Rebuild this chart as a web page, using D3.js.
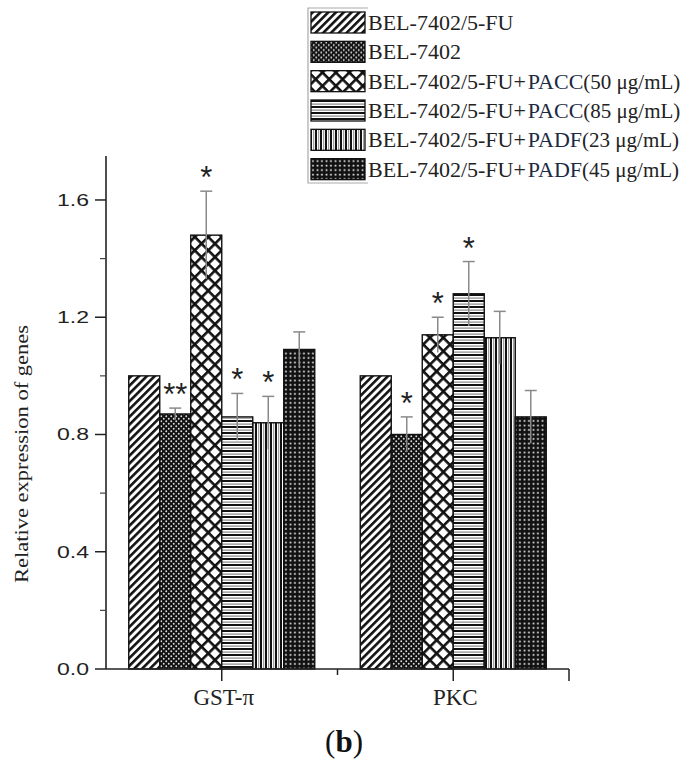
<!DOCTYPE html>
<html>
<head>
<meta charset="utf-8">
<script src="https://cdn.jsdelivr.net/npm/d3@7"></script>
<style>
    body { margin: 0; background: #fff; }
    svg { display: block; }
</style>
</head>
<body>
<div id="chart"></div>
<script>
const categories = ["GST-π", "PKC"];
const seriesNames = [
    ["BEL-7402/5-FU", "", ""],
    ["BEL-7402", "", ""],
    ["BEL-7402/5-FU+", "PACC", "(50 μg/mL)"],
    ["BEL-7402/5-FU+", "PACC", "(85 μg/mL)"],
    ["BEL-7402/5-FU+", "PADF", "(23 μg/mL)"],
    ["BEL-7402/5-FU+", "PADF", "(45 μg/mL)"]
];
const gstValues = [1.00, 0.87, 1.48, 0.86, 0.84, 1.09];
const gstErrors = [0, 0.02, 0.15, 0.08, 0.09, 0.06];
const gstMarks = ["", "**", "*", "*", "*", ""];
const pkcValues = [1.00, 0.80, 1.14, 1.28, 1.13, 0.86];
const pkcErrors = [0, 0.06, 0.06, 0.11, 0.09, 0.09];
const pkcMarks = ["", "*", "*", "*", "", ""];
const yTicks = [0, 0.4, 0.8, 1.2, 1.6];
const yMinorTicks = [0.2, 0.6, 1.0, 1.4];
const yLabel = "Relative expression of genes";
const panelLabel = "b";

let svg = d3.select("#chart").append("svg")
                            .attr("width", 690)
                            .attr("height", 762);

// fill patterns, one per series
let defs = svg.append("defs");

let p0 = defs.append("pattern").attr("id", "pat0").attr("patternUnits", "userSpaceOnUse")
            .attr("width", 5.5).attr("height", 5.5).attr("patternTransform", "rotate(45)");
p0.append("rect").attr("width", 5.5).attr("height", 5.5).attr("fill", "#fff");
p0.append("rect").attr("width", 2.6).attr("height", 5.5).attr("fill", "#111");

let p1 = defs.append("pattern").attr("id", "pat1").attr("patternUnits", "userSpaceOnUse")
            .attr("width", 5).attr("height", 5);
p1.append("rect").attr("width", 5).attr("height", 5).attr("fill", "#111");
p1.append("circle").attr("cx", 1.25).attr("cy", 1.25).attr("r", 0.95).attr("fill", "#ddd");
p1.append("circle").attr("cx", 3.75).attr("cy", 3.75).attr("r", 0.95).attr("fill", "#ddd");

let p2 = defs.append("pattern").attr("id", "pat2").attr("patternUnits", "userSpaceOnUse")
            .attr("width", 9.5).attr("height", 9.5).attr("patternTransform", "rotate(45)");
p2.append("rect").attr("width", 9.5).attr("height", 9.5).attr("fill", "#fff");
p2.append("rect").attr("width", 2.6).attr("height", 9.5).attr("fill", "#111");
p2.append("rect").attr("width", 9.5).attr("height", 2.6).attr("fill", "#111");

let p3 = defs.append("pattern").attr("id", "pat3").attr("patternUnits", "userSpaceOnUse")
            .attr("width", 6).attr("height", 6);
p3.append("rect").attr("width", 6).attr("height", 6).attr("fill", "#fff");
p3.append("rect").attr("width", 6).attr("height", 2).attr("fill", "#111");
p3.append("rect").attr("y", 3.5).attr("width", 6).attr("height", 1.2).attr("fill", "#888");

let p4 = defs.append("pattern").attr("id", "pat4").attr("patternUnits", "userSpaceOnUse")
            .attr("width", 5).attr("height", 5);
p4.append("rect").attr("width", 5).attr("height", 5).attr("fill", "#fff");
p4.append("rect").attr("width", 2).attr("height", 5).attr("fill", "#111");
p4.append("rect").attr("x", 3.2).attr("width", 1).attr("height", 5).attr("fill", "#888");

let p5 = defs.append("pattern").attr("id", "pat5").attr("patternUnits", "userSpaceOnUse")
            .attr("width", 4.5).attr("height", 4.5);
p5.append("rect").attr("width", 4.5).attr("height", 4.5).attr("fill", "#111");
p5.append("rect").attr("x", 1.6).attr("y", 1.6).attr("width", 1.7).attr("height", 1.7).attr("fill", "#eee");

// scales
let xScale = d3.scaleLinear().domain([0, 4]).range([106, 569]);
let yScale = d3.scaleLinear().domain([0, 1.75]).range([669, 156]);
let catPos = d3.scaleOrdinal().domain(categories).range([1, 3]);
let barWidth = 31;
let inner = d3.scaleBand().domain(d3.range(seriesNames.length))
                        .range([-barWidth * 3, barWidth * 3]);

let groups = [
    { cat: categories[0], values: gstValues, errors: gstErrors, marks: gstMarks },
    { cat: categories[1], values: pkcValues, errors: pkcErrors, marks: pkcMarks }
];
let bars = [];
groups.forEach(g => {
    g.values.forEach((v, i) => {
        bars.push({ cat: g.cat, i: i, v: v, e: g.errors[i], mark: g.marks[i] });
    });
});
let barX = d => xScale(catPos(d.cat)) + inner(d.i);

let plot = svg.append("g");
plot.selectAll("rect.bar").data(bars).join("rect")
                .attr("class", "bar")
                .attr("x", d => barX(d))
                .attr("y", d => yScale(d.v))
                .attr("width", inner.bandwidth())
                .attr("height", d => yScale(0) - yScale(d.v))
                .attr("fill", d => `url(#pat${d.i})`)
                .attr("stroke", "#111")
                .attr("stroke-width", 1.4);

// error bars
let errs = bars.filter(d => d.e > 0);
plot.selectAll("line.err").data(errs).join("line")
                .attr("x1", d => barX(d) + inner.bandwidth() / 2)
                .attr("x2", d => barX(d) + inner.bandwidth() / 2)
                .attr("y1", d => yScale(d.v - d.e))
                .attr("y2", d => yScale(d.v + d.e))
                .attr("stroke", "#8a8a8a")
                .attr("stroke-width", 1.5);
plot.selectAll("line.cap").data(errs).join("line")
                .attr("x1", d => barX(d) + inner.bandwidth() / 2 - 6)
                .attr("x2", d => barX(d) + inner.bandwidth() / 2 + 6)
                .attr("y1", d => yScale(d.v + d.e))
                .attr("y2", d => yScale(d.v + d.e))
                .attr("stroke", "#8a8a8a")
                .attr("stroke-width", 1.5);

// significance stars
plot.selectAll("text.mark").data(bars.filter(d => d.mark)).join("text")
                .attr("x", d => barX(d) + inner.bandwidth() / 2)
                .attr("y", d => yScale(d.v + d.e) - 3)
                .attr("text-anchor", "middle")
                .attr("font-family", "Liberation Sans, Arial, sans-serif")
                .attr("font-size", 31)
                .attr("fill", "#222")
                .text(d => d.mark);

// y axis
let yAxis = svg.append("g").attr("transform", `translate(${xScale(0)},0)`);
yAxis.append("line")
        .attr("y1", yScale(0)).attr("y2", yScale.range()[1])
        .attr("stroke", "#222").attr("stroke-width", 1.6);
yAxis.selectAll("line.major").data(yTicks).join("line")
        .attr("x1", -11).attr("x2", 0)
        .attr("y1", d => yScale(d)).attr("y2", d => yScale(d))
        .attr("stroke", "#222").attr("stroke-width", 1.5);
yAxis.selectAll("line.minor").data(yMinorTicks).join("line")
        .attr("x1", -6).attr("x2", 0)
        .attr("y1", d => yScale(d)).attr("y2", d => yScale(d))
        .attr("stroke", "#444").attr("stroke-width", 1.2);
yAxis.selectAll("text").data(yTicks).join("text")
        .attr("x", -17)
        .attr("y", d => yScale(d) + 6)
        .attr("text-anchor", "end")
        .attr("font-family", "Liberation Sans, Arial, sans-serif")
        .attr("font-size", 17)
        .attr("textLength", 32)
        .attr("lengthAdjust", "spacingAndGlyphs")
        .attr("fill", "#222")
        .text(d => d3.format(".1f")(d));

// x axis
let xAxis = svg.append("g").attr("transform", `translate(0,${yScale(0)})`);
xAxis.append("line")
        .attr("x1", xScale(0)).attr("x2", xScale(4))
        .attr("stroke", "#222").attr("stroke-width", 1.6);
xAxis.selectAll("line.tick").data([1, 2, 3, 4]).join("line")
        .attr("x1", d => xScale(d)).attr("x2", d => xScale(d))
        .attr("y1", 0).attr("y2", d => d === 2 ? 6 : 12)
        .attr("stroke", "#222").attr("stroke-width", 1.5);
xAxis.selectAll("text").data(categories).join("text")
        .attr("x", d => xScale(catPos(d)) + 2)
        .attr("y", 36)
        .attr("text-anchor", "middle")
        .attr("font-family", "Liberation Serif, Times New Roman, serif")
        .attr("font-size", 23)
        .attr("fill", "#222")
        .text(d => d);

// axis title
svg.append("text")
        .attr("transform", `translate(28,${454}) rotate(-90)`)
        .attr("text-anchor", "middle")
        .attr("font-family", "Liberation Serif, Times New Roman, serif")
        .attr("font-size", 19)
        .attr("textLength", 258)
        .attr("lengthAdjust", "spacingAndGlyphs")
        .attr("fill", "#222")
        .text(yLabel);

// panel label
let pl = svg.append("text")
        .attr("x", 344).attr("y", 752)
        .attr("text-anchor", "middle")
        .attr("font-family", "Liberation Serif, Times New Roman, serif")
        .attr("font-size", 31)
        .attr("fill", "#111");
pl.append("tspan").text("(");
pl.append("tspan").attr("font-weight", "bold").text(panelLabel);
pl.append("tspan").text(")");

// legend
let legendRow = d3.scaleBand().domain(d3.range(seriesNames.length)).range([12, 188]);
let legend = svg.append("g");
legend.append("path")
        .attr("d", "M368,8H308V183H368")
        .attr("fill", "none")
        .attr("stroke", "#aaa")
        .attr("stroke-width", 1.2);
let rows = legend.selectAll("g").data(seriesNames).join("g")
        .attr("transform", (d, i) => `translate(0,${legendRow(i)})`);
rows.append("rect")
        .attr("x", 311).attr("width", 54).attr("height", 21)
        .attr("fill", (d, i) => `url(#pat${i})`)
        .attr("stroke", "#111").attr("stroke-width", 1.3);
let lt = rows.append("text")
        .attr("x", 368).attr("y", 18)
        .attr("font-family", "Liberation Serif, Times New Roman, serif")
        .attr("font-size", 22)
        .attr("fill", "#222");
lt.append("tspan").text(d => d[0]);
lt.append("tspan").attr("fill", "#1c2a44").attr("dx", d => d[1] ? 2 : 0).text(d => d[1]);
lt.append("tspan").attr("font-size", 21).text(d => d[2]);
</script>
</body>
</html>
